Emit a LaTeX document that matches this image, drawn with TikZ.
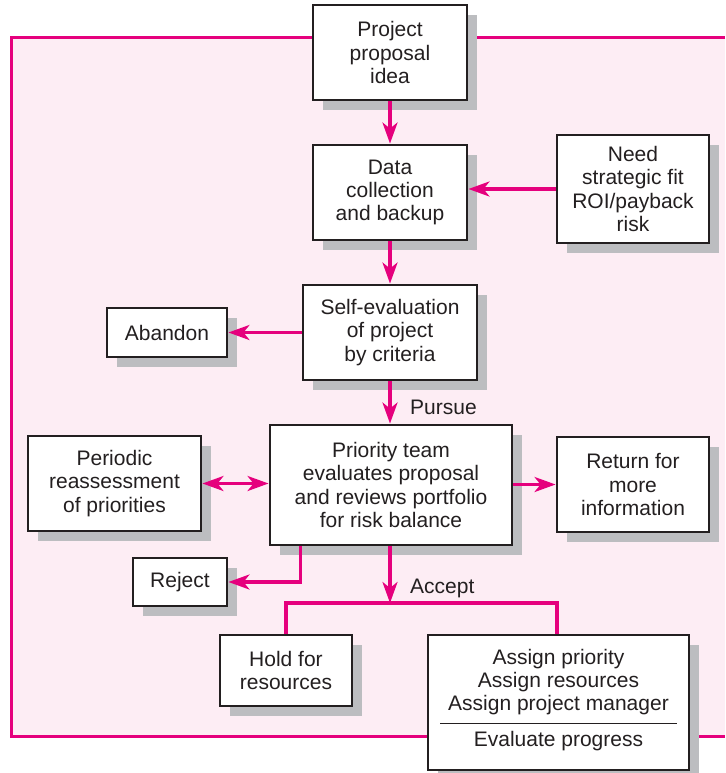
\documentclass[tikz,border=0pt]{standalone}
\usepackage{fontspec}
\setmainfont{Liberation Sans}
\usetikzlibrary{arrows.meta,shadows}
\definecolor{mag}{HTML}{E5007D}
\definecolor{pinkbg}{HTML}{FDEDF4}
\definecolor{shadowgray}{HTML}{BCBDC0}
\definecolor{boxline}{HTML}{231F20}
\begin{document}
\begin{tikzpicture}[x=1pt,y=-1pt,
  box/.style={draw=boxline, line width=2.9pt, fill=white, align=center,
    font=\fontsize{21}{23.4}\selectfont, text=boxline, inner sep=0pt,
    drop shadow={shadow xshift=10pt, shadow yshift=-10pt, fill=shadowgray, opacity=1}},
  plaintext/.style={align=center, font=\fontsize{21}{23.4}\selectfont, text=boxline, inner sep=0pt},
  conn/.style={draw=mag, line width=3.2pt, -{Stealth[length=21pt,width=15pt,inset=6pt]}},
  link/.style={draw=mag, line width=3.2pt}]
\useasboundingbox (0,0) rectangle (725,773);
\fill[pinkbg] (11,38) rectangle (725,736);
\draw[mag, line width=3pt] (725,38) -- (11,38) -- (11,736) -- (725,736);

\node[box, minimum width=154pt, minimum height=95pt] (idea) at (390,52.5) {Project\\proposal\\idea};
\node[box, minimum width=154pt, minimum height=95pt] (data) at (390,192.5) {Data\\collection\\and backup};
\node[box, minimum width=152pt, minimum height=108pt] (need) at (633,189) {Need\\strategic fit\\ROI/payback\\risk};
\node[box, minimum width=174pt, minimum height=95pt] (self) at (390,332.5) {Self-evaluation\\of project\\by criteria};
\node[box, minimum width=120pt, minimum height=49pt] (abandon) at (167,332.5) {Abandon};
\node[box, minimum width=242pt, minimum height=120pt] (prio) at (391,485) {Priority team\\evaluates proposal\\and reviews portfolio\\for risk balance};
\node[box, minimum width=152pt, minimum height=95pt] (ret) at (633,484.5) {Return for\\more\\information};
\node[box, minimum width=173pt, minimum height=95pt] (periodic) at (114.5,483.5) {Periodic\\reassessment\\of priorities};
\node[box, minimum width=94pt, minimum height=48pt] (reject) at (180,582) {Reject};
\node[box, minimum width=132pt, minimum height=71pt] (hold) at (286,670.5) {Hold for\\resources};
\node[box, minimum width=261pt, minimum height=135pt] (assign) at (558.5,702.5) {};
\node[plaintext] (assigntext) at (558.5,682) {Assign priority\\Assign resources\\Assign project manager};
\node[plaintext] (evaltext) at (558.5,741) {Evaluate progress};
\draw[boxline, line width=1pt] (440,723) -- (677,723);

\draw[conn] (idea) -- (data);
\draw[conn] (need.west) -- (data.east |- need.west);
\draw[conn] (data) -- (self);
\draw[conn] (self.west) -- (abandon.east);
\draw[conn] (self.south) -- (self.south |- prio.north);
\node[plaintext, anchor=west] (pursue) at (410,407) {Pursue};
\draw[link, {Stealth[length=21pt,width=15pt,inset=6pt]}-{Stealth[length=21pt,width=15pt,inset=6pt]}] (periodic.east) -- (periodic.east -| prio.west);
\draw[conn] (prio.east |- ret.west) -- (ret.west);
\draw[conn] ([xshift=32pt]prio.south west) |- (reject.east);
\coordinate (split) at (390,603);
\draw[conn] (prio.south -| split) -- (split);
\node[plaintext, anchor=west] (accept) at (410,588) {Accept};
\draw[link] (hold.north) |- (split) -| ([xshift=-1.5pt]assign.north);
\end{tikzpicture}
\end{document}
